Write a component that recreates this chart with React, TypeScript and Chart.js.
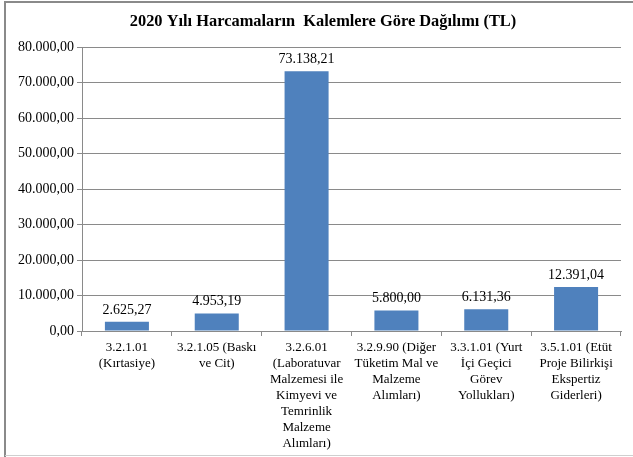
import React, { useEffect, useRef } from "react";
import { Chart, registerables } from "chart.js";

Chart.register(...registerables);

const categories: string[][] = [
  ["3.2.1.01", "(Kırtasiye)"],
  ["3.2.1.05 (Baskı", "ve Cit)"],
  ["3.2.6.01", "(Laboratuvar", "Malzemesi ile", "Kimyevi ve", "Temrinlik", "Malzeme", "Alımları)"],
  ["3.2.9.90 (Diğer", "Tüketim Mal ve", "Malzeme", "Alımları)"],
  ["3.3.1.01 (Yurt", "İçi Geçici", "Görev", "Yollukları)"],
  ["3.5.1.01 (Etüt", "Proje Bilirkişi", "Ekspertiz", "Giderleri)"],
];
const values: number[] = [2625.27, 4953.19, 73138.21, 5800.0, 6131.36, 12391.04];
const yTicks: number[] = [0, 10000, 20000, 30000, 40000, 50000, 60000, 70000, 80000];
const title = "2020 Yılı Harcamaların  Kalemlere Göre Dağılımı (TL)";

function fmt(v: number): string {
  const fixed = v.toFixed(2);
  const [intPart, dec] = fixed.split(".");
  const withDots = intPart.replace(/\B(?=(\d{3})+(?!\d))/g, ".");
  return withDots + "," + dec;
}

const FONT = "'Liberation Serif', 'Times New Roman', serif";

export default function App() {
  const ref = useRef<HTMLCanvasElement | null>(null);
  useEffect(() => {
    document.body.style.margin = "0";
    const canvas = ref.current!;
    const decor = {
      id: "decor",
      beforeDraw(chart: any) {
        const ctx = chart.ctx;
        ctx.save();
        ctx.fillStyle = "#ffffff";
        ctx.fillRect(0, 0, chart.width, chart.height);
        ctx.strokeStyle = "#8a8a8a";
        ctx.lineWidth = 2;
        ctx.beginPath();
        ctx.moveTo(5, 457);
        ctx.lineTo(5, 2);
        ctx.lineTo(633, 2);
        ctx.stroke();
        ctx.strokeStyle = "#cfcfcf";
        ctx.lineWidth = 1;
        ctx.beginPath();
        ctx.moveTo(5, 455.5);
        ctx.lineTo(633, 455.5);
        ctx.stroke();
        ctx.fillStyle = "#000";
        ctx.font = "bold 16.4px " + FONT;
        ctx.textAlign = "center";
        ctx.textBaseline = "middle";
        ctx.fillText(title, 323, 22);
        ctx.restore();
      },
      afterDatasetsDraw(chart: any) {
        const ctx = chart.ctx;
        const meta = chart.getDatasetMeta(0);
        ctx.save();
        ctx.fillStyle = "#000";
        ctx.font = "14px " + FONT;
        ctx.textAlign = "center";
        ctx.textBaseline = "alphabetic";
        meta.data.forEach((bar: any, i: number) => {
          ctx.fillText(fmt(values[i]), bar.x, bar.y - 8);
        });
        ctx.restore();
      },
    };
    const chart = new Chart(canvas, {
      type: "bar",
      data: {
        labels: categories,
        datasets: [
          {
            data: values,
            backgroundColor: "#4F81BD",
            barPercentage: 0.49,
            categoryPercentage: 1,
          },
        ],
      },
      options: {
        animation: false,
        responsive: false,
        layout: { padding: { top: 47, right: 12, left: 0, bottom: 0 } },
        plugins: {
          legend: { display: false },
          title: { display: false },
          tooltip: { enabled: false },
        },
        scales: {
          x: {
            grid: {
              offset: true,
              drawOnChartArea: false,
              drawTicks: true,
              tickLength: 5,
              color: "#8a8a8a",
            },
            border: { color: "#8a8a8a" },
            ticks: {
              color: "#000",
              font: { family: FONT, size: 13, lineHeight: 1.22 },
              maxRotation: 0,
              autoSkip: false,
              padding: 4,
            },
            afterFit(scale: any) {
              scale.height = 457 - 331;
            },
          },
          y: {
            min: 0,
            max: 80000,
            afterBuildTicks(scale: any) {
              scale.ticks = yTicks.map((v) => ({ value: v }));
            },
            grid: {
              color: "#8a8a8a",
              drawTicks: true,
              tickLength: 5,
            },
            border: { color: "#8a8a8a" },
            ticks: {
              color: "#000",
              font: { family: FONT, size: 14 },
              padding: 3,
              callback: (v: any) => fmt(Number(v)),
            },
            afterFit(scale: any) {
              scale.width = 82;
            },
          },
        },
      },
      plugins: [decor],
    });
    return () => chart.destroy();
  }, []);
  return (
    <div style={{ width: 633, height: 457 }}>
      <canvas ref={ref} width={633} height={457} style={{ display: "block" }} />
    </div>
  );
}
